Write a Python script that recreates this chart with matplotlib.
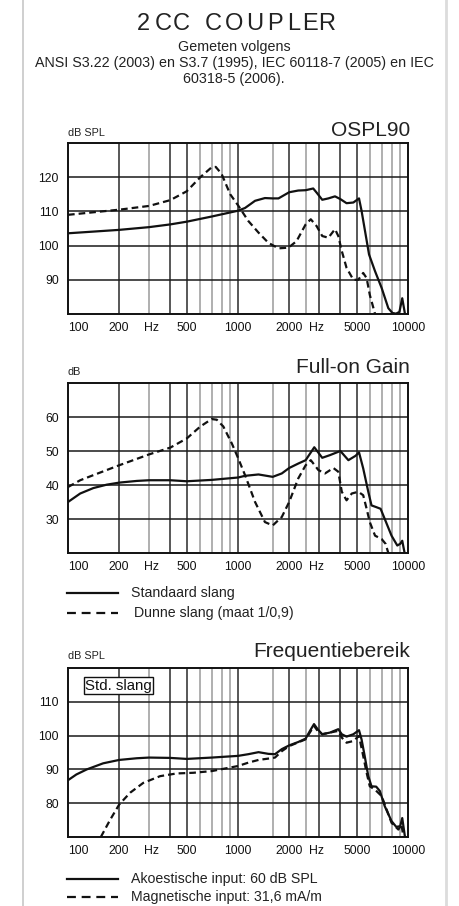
import matplotlib
matplotlib.use('Agg')
import matplotlib.pyplot as plt
from matplotlib.lines import Line2D
from matplotlib.ticker import FixedLocator, FixedFormatter, NullLocator

W, H = 459, 906
plt.rcParams['font.family'] = ['Liberation Sans', 'DejaVu Sans']

# ---------------- data ----------------
XTICK_POS = [100, 200, 310, 500, 1000, 2000, 2900, 5000, 10000]
XTICK_LABELS = ['100', '200', 'Hz', '500', '1000', '2000', 'Hz', '5000', '10000']
GRID_DARK = [200, 400, 500, 1000, 2000, 3000, 4000, 5000]
GRID_LIGHT = [300, 600, 700, 800, 900, 1600, 2500, 6000, 7000, 8000, 9000]

# OSPL90
ospl_std_f = [100, 200, 300, 400, 500, 700, 1000, 1100, 1260, 1440, 1600, 1730, 2000, 2260, 2500,
              2770, 2900, 3130, 3400, 3720, 4000, 4350, 4770, 5150, 5330, 5630, 5900, 6400, 7000,
              7660, 8100, 8500, 8900, 9250, 9600]
ospl_std_db = [103.6, 104.6, 105.4, 106.2, 107.0, 108.5, 110.2, 111.0, 113.1, 113.9, 113.8, 113.8,
               115.6, 116.1, 116.2, 116.7, 115.5, 113.4, 113.8, 114.4, 113.6, 112.4, 112.6, 113.8,
               110.2, 103.3, 97.4, 92.5, 87.6, 81.7, 80.3, 80.1, 80.6, 84.6, 80.0]
ospl_thin_f = [100, 200, 300, 400, 500, 600, 700, 740, 800, 900, 1000, 1150, 1320, 1510, 1730, 1980,
               2210, 2500, 2680, 2900, 3130, 3400, 3720, 3890, 4080, 4350, 4770, 5100, 5450, 5710,
               5960, 6400]
ospl_thin_db = [109.0, 110.5, 111.6, 113.3, 115.9, 120.0, 122.9, 123.0, 121.0, 115.0, 111.8, 107.2,
                103.8, 100.8, 99.2, 99.4, 101.3, 106.2, 107.7, 105.7, 102.8, 102.3, 104.8, 102.8,
                98.4, 93.5, 90.0, 90.0, 92.0, 90.5, 85.6, 80.0]

# Full-on Gain
gain_std_f = [100, 118, 141, 169, 200, 254, 300, 400, 500, 700, 1000, 1100, 1320, 1600, 1810, 2000,
              2260, 2500, 2810, 3130, 3480, 4000, 4460, 4920, 5150, 5450, 5840, 6100, 6500, 6900,
              7300, 8000, 8650, 9000, 9250, 9550]
gain_std_db = [35.0, 37.5, 39.1, 40.1, 40.7, 41.2, 41.4, 41.4, 41.1, 41.5, 42.2, 42.7, 43.1, 42.4,
               43.4, 45.0, 46.3, 47.3, 51.1, 48.0, 48.8, 50.0, 47.3, 48.6, 49.6, 44.9, 38.0, 34.0,
               33.5, 33.0, 30.0, 25.1, 22.2, 22.7, 23.6, 20.0]
gain_thin_f = [100, 118, 141, 200, 300, 400, 500, 600, 700, 750, 820, 920, 1000, 1100, 1260, 1440,
               1600, 1810, 2000, 2260, 2500, 2680, 2970, 3250, 3640, 3890, 4080, 4350, 4670, 5100,
               5450, 5710, 5960, 6400, 7000, 7380, 7660]
gain_thin_db = [39.4, 41.4, 42.9, 45.8, 49.0, 51.0, 53.7, 57.2, 59.4, 59.2, 57.2, 52.2, 48.0, 42.9,
                35.0, 29.1, 28.1, 30.6, 35.0, 41.9, 45.8, 47.3, 44.4, 43.4, 45.0, 43.9, 38.0, 35.5,
                37.5, 38.0, 37.0, 33.0, 29.1, 25.1, 24.1, 22.7, 20.0]

# Frequentiebereik
freq_ac_f = [100, 112, 129, 161, 200, 254, 300, 400, 500, 700, 1000, 1150, 1320, 1510, 1650, 1810,
             2000, 2260, 2500, 2650, 2800, 2940, 3130, 3480, 3890, 4080, 4350, 4770, 5150, 5330,
             5560, 5840, 6100, 6500, 6830, 7300, 8000, 8530, 9000, 9250, 9600]
freq_ac_db = [86.8, 88.5, 90.0, 91.8, 92.8, 93.3, 93.5, 93.4, 93.1, 93.5, 94.0, 94.5, 95.1, 94.6,
              94.5, 96.0, 97.1, 98.1, 99.1, 101.4, 103.4, 101.9, 100.4, 100.9, 101.9, 100.4, 99.7,
              100.4, 101.6, 98.9, 94.0, 88.0, 85.0, 84.9, 83.6, 79.1, 74.7, 73.0, 73.2, 75.6, 70.0]
freq_mag_f = [156, 177, 200, 232, 277, 348, 435, 546, 700, 1000, 1150, 1320, 1510, 1650, 1810, 2000,
              2500, 2800, 2940, 3130, 3480, 3890, 4080, 4350, 4770, 5150, 5450, 5710, 5960, 6400,
              7000, 8000, 8780, 9150, 9400]
freq_mag_db = [70.0, 75.1, 79.6, 83.1, 86.0, 88.0, 88.8, 89.0, 89.5, 91.0, 92.0, 92.8, 93.2, 93.5,
               95.4, 96.9, 98.9, 102.9, 101.4, 100.4, 100.9, 101.4, 99.4, 97.9, 98.4, 99.9, 94.0,
               89.0, 85.0, 84.0, 82.1, 74.2, 72.2, 73.7, 70.0]

# ---------------- figure ----------------
fig = plt.figure(figsize=(W / 100, H / 100), dpi=100)
fig.patch.set_facecolor('white')


def fx(x):
    return x / W


def fy(y):
    return 1 - y / H


DASH = (0, (3, 1.8))


def make_chart(top, bottom, ylo, yhi, yticks, curves, ylabel, title, title_base, ylabel_y):
    ax = fig.add_axes([fx(68), fy(bottom), fx(408) - fx(68), fy(top) - fy(bottom)])
    ax.set_xscale('log')
    ax.set_xlim(100, 10000)
    ax.set_ylim(ylo, yhi)
    for g in GRID_LIGHT:
        ax.axvline(g, color='#9a9a9a', lw=1.1, zorder=1)
    for g in GRID_DARK:
        ax.axvline(g, color='#2a2a2a', lw=1.1, zorder=1)
    for t in yticks:
        ax.axhline(t, color='#1a1a1a', lw=1.1, zorder=1)
    for f, d, ls in curves:
        ax.plot(f, d, color='#111111', lw=1.6, linestyle=ls, zorder=3,
                solid_capstyle='round', dash_capstyle='butt')
    ax.xaxis.set_major_locator(FixedLocator(XTICK_POS))
    ax.xaxis.set_major_formatter(FixedFormatter(XTICK_LABELS))
    ax.xaxis.set_minor_locator(NullLocator())
    ax.set_yticks(yticks)
    ax.set_yticklabels([str(t) for t in yticks])
    ax.tick_params(axis='both', length=0, labelsize=8.8, colors='#111111')
    ax.tick_params(axis='x', pad=5.5)
    ax.tick_params(axis='y', pad=6.5)
    ax.get_xticklabels()[0].set_horizontalalignment('left')
    for s in ax.spines.values():
        s.set_linewidth(1.4)
        s.set_color('#111111')
        s.set_zorder(4)
    fig.text(fx(68), fy(ylabel_y), ylabel, fontsize=7.8, ha='left', va='center', color='#222222')
    fig.text(fx(410), fy(title_base), title, fontsize=15, ha='right', va='baseline', color='#222222')
    return ax


ax1 = make_chart(143, 314, 80, 130, [90, 100, 110, 120],
                 [(ospl_std_f, ospl_std_db, '-'), (ospl_thin_f, ospl_thin_db, DASH)],
                 'dB SPL', 'OSPL90', 136, 133)
ax2 = make_chart(383, 553, 20, 70, [30, 40, 50, 60],
                 [(gain_std_f, gain_std_db, '-'), (gain_thin_f, gain_thin_db, DASH)],
                 'dB', 'Full-on Gain', 373, 372)
ax3 = make_chart(668, 837, 70, 120, [80, 90, 100, 110],
                 [(freq_ac_f, freq_ac_db, '-'), (freq_mag_f, freq_mag_db, DASH)],
                 'dB SPL', 'Frequentiebereik', 657, 656)

ax3.text(0.05, 0.896, 'Std. slang', transform=ax3.transAxes, fontsize=10.8, ha='left', va='center',
         color='#111111', zorder=5,
         bbox=dict(boxstyle='square,pad=0.08', facecolor='white', edgecolor='#111111', lw=1.0))

# legends
def legend_entry(y, ls, label, text_x=131):
    fig.add_artist(Line2D([fx(67), fx(118)], [fy(y), fy(y)], transform=fig.transFigure,
                          color='#111111', lw=1.6, linestyle=ls))
    fig.text(fx(text_x), fy(y - 0.5), label, fontsize=10.2, ha='left', va='center', color='#222222')


LEG_DASH = (0, (4, 2.6))
legend_entry(593, '-', 'Standaard slang')
legend_entry(613, LEG_DASH, 'Dunne slang (maat 1/0,9)', 134)
legend_entry(879, '-', 'Akoestische input: 60 dB SPL')
legend_entry(897, LEG_DASH, 'Magnetische input: 31,6 mA/m')

# header
title_chars = ['2', 'C', 'C', 'C', 'O', 'U', 'P', 'L', 'E', 'R']
title_x = [143.3, 163.3, 181.7, 213.3, 234.0, 255.0, 274.7, 293.3, 310.0, 326.7]
for ch, x in zip(title_chars, title_x):
    fig.text(fx(x), fy(24.5), ch, fontsize=17, ha='center', va='center', color='#222222',
             family=['Liberation Sans Narrow', 'Liberation Sans'])

cx = 0.5 * (fx(22) + fx(446))
fig.text(cx, fy(47), 'Gemeten volgens', fontsize=10.3, ha='center', va='center', color='#222222')
fig.text(cx, fy(63), 'ANSI S3.22 (2003) en S3.7 (1995), IEC 60118-7 (2005) en IEC',
         fontsize=10.3, ha='center', va='center', color='#222222')
fig.text(cx, fy(79), '60318-5 (2006).', fontsize=10.3, ha='center', va='center', color='#222222')

# card edges
fig.add_artist(Line2D([fx(22.5), fx(22.5)], [0, 1], transform=fig.transFigure, color='#cfcfcf', lw=1.4))
fig.add_artist(Line2D([fx(446), fx(446)], [0, 1], transform=fig.transFigure, color='#dcdcdc', lw=2.0))

fig.savefig('out.png', dpi=100, facecolor='white')
